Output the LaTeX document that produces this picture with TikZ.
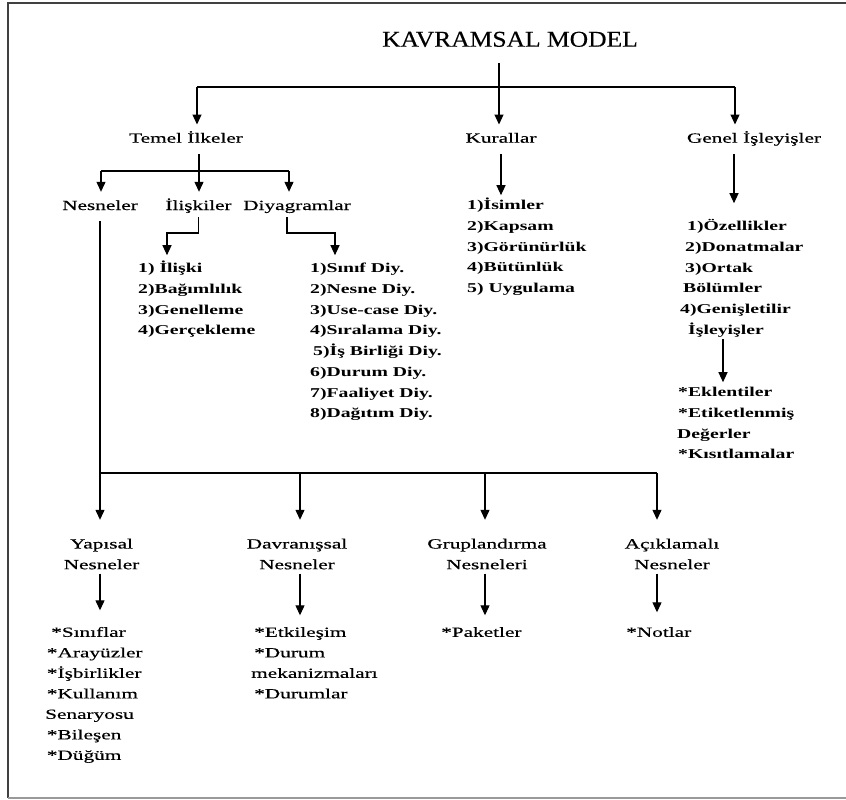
\documentclass[tikz,border=0pt]{standalone}
\usepackage{fontspec}
\setmainfont{Liberation Serif}
\newfontfamily\hdfont[FakeStretch=1.52,FakeBold=0.5]{Liberation Serif}
\newfontfamily\itfont[FakeStretch=1.52,FakeBold=0.3]{Liberation Serif}
\newfontfamily\lsfont[FakeStretch=1.46]{Liberation Serif}
\newfontfamily\ttlfont[FakeStretch=1.13,FakeBold=0.3]{Liberation Serif}
\usetikzlibrary{arrows.meta,calc}

\begin{document}
\begin{tikzpicture}[x=1pt,y=-1pt,
  ln/.style={line width=1.2pt},
  arr/.style={line width=1.2pt,-{Triangle[length=10pt,width=9pt]}},
  hd/.style={font=\hdfont\fontsize{14}{17}\selectfont,inner xsep=1pt,inner ysep=8pt,
             text height=10pt,text depth=3pt,anchor=base},
  hdb/.style={font=\hdfont\fontsize{14}{20.7}\selectfont,align=center,inner sep=0pt,anchor=north},
  lstb/.style={font=\lsfont\bfseries\fontsize{13.5}{20.7}\selectfont,align=left,inner sep=0pt,anchor=north west},
  lstr/.style={font=\itfont\fontsize{14}{20.5}\selectfont,align=left,inner sep=0pt,anchor=north west},
]
\useasboundingbox (0,0) rectangle (846,800);

% frame
\draw[line width=2pt,black!75] (846,3.5) -- (8,3.5) -- (8,798);
\draw[line width=1.5pt,black!40] (8,798) -- (846,798);

% title and first level
\node[font=\ttlfont\fontsize{22.6}{26}\selectfont,inner sep=0pt,anchor=base] (title) at (510,46.7) {KAVRAMSAL MODEL};
\node[hd] (temel) at (186,142.7) {Temel İlkeler};
\node[hd] (kur)   at (501,142.7) {Kurallar};
\node[hd] (genel) at (754,142.7) {Genel İşleyişler};

\coordinate (tstem) at (499,63);
\coordinate (tl) at (197,87);
\coordinate (tr) at (735,87);
\draw[ln] (tl) -- (tr);
\draw[arr] (tstem) -- (tstem |- kur.north);
\draw[arr] (tl) -- (tl |- temel.north);
\draw[arr] (tr) -- (tr |- genel.north);

% second level under Temel Ilkeler
\node[hd] (nes)  at (100,210)   {Nesneler};
\node[hd] (ilis) at (198.5,210) {İlişkiler};
\node[hd] (diya) at (297,210)   {Diyagramlar};

\coordinate (tm) at (199,171);
\coordinate (tn) at (101,171);
\coordinate (td) at (289,171);
\draw[ln] (tn) -- (td);
\draw[arr] (tm |- temel.south) -- (tm |- ilis.north);
\draw[arr] (tn) -- (tn |- nes.north);
\draw[arr] (td) -- (td |- diya.north);

% relation and diagram lists
\node[lstb] (ilislist) at (138,258.2) {\strut 1) İlişki\\\strut 2)Bağımlılık\\\strut 3)Genelleme\\\strut 4)Gerçekleme};
\node[lstb] (diyalist) at (310,258.2) {\strut 1)Sınıf Diy.\\\strut 2)Nesne Diy.\\\strut 3)Use-case Diy.\\\strut 4)Sıralama Diy.\\\strut\hspace*{3pt}5)İş Birliği Diy.\\\strut 6)Durum Diy.\\\strut 7)Faaliyet Diy.\\\strut 8)Dağıtım Diy.};

\coordinate (ie) at (167,233);
\coordinate (ds) at (287,0);
\coordinate (de) at (335,233);
\draw[arr,shorten >=3pt] ($(ilis.south)+(0,-4)$) |- (ie) -- (ie |- ilislist.north);
\draw[arr,shorten >=3pt] ($(ds |- diya.south)+(0,-4)$) |- (de) -- (de |- diyalist.north);

% rules list
\node[lstb] (kurlist) at (467,195.2) {\strut 1)İsimler\\\strut 2)Kapsam\\\strut 3)Görünürlük\\\strut 4)Bütünlük\\\strut 5) Uygulama};
\draw[arr] (kur.south) -- (kur.south |- kurlist.north);

% general mechanisms
\node[lstb] (genlist) at (680,216.2) {\strut\hspace*{7pt}1)Özellikler\\\strut\hspace*{5pt}2)Donatmalar\\\strut\hspace*{5pt}3)Ortak\\\strut\hspace*{3pt}Bölümler\\\strut 4)Genişletilir\\\strut\hspace*{8pt}İşleyişler};
\coordinate (gx) at (734,0);
\draw[arr,shorten >=13pt] (gx |- genel.south) -- (gx |- genlist.north);

\node[lstb] (eklist) at (677,382.2) {\strut\hspace*{1pt}*Eklentiler\\\strut\hspace*{1pt}*Etiketlenmiş\\\strut Değerler\\\strut\hspace*{1pt}*Kısıtlamalar};
\coordinate (ex) at (723,0);
\draw[arr,shorten <=-2pt] (ex |- genlist.south) -- (ex |- eklist.north);

% object kinds
\node[hdb] (yap)  at (101.5,533.8) {\strut Yapısal\\\strut Nesneler};
\node[hdb] (dav)  at (297,533.8)   {\strut Davranışsal\\\strut Nesneler};
\node[hdb] (grp)  at (487,533.8)   {\strut Gruplandırma\\\strut Nesneleri};
\node[hdb] (acik) at (672,533.8)   {\strut Açıklamalı\\\strut Nesneler};

\coordinate (b1) at (100,473);
\coordinate (b2) at (300,473);
\coordinate (b3) at (485,473);
\coordinate (b4) at (657,473);
\draw[ln] (b1) -- (b4);
\draw[arr,shorten >=14pt] (nes.south) -- (nes.south |- yap.north);
\draw[arr,shorten >=14pt] (b2) -- (b2 |- dav.north);
\draw[arr,shorten >=14pt] (b3) -- (b3 |- grp.north);
\draw[arr,shorten >=14pt] (b4) -- (b4 |- acik.north);

% members of each kind
\node[lstr] (yaplist) at (45,622.3) {\strut\hspace*{6pt}*Sınıflar\\\strut\hspace*{1.7pt}*Arayüzler\\\strut\hspace*{1.7pt}*İşbirlikler\\\strut\hspace*{1.7pt}*Kullanım\\\strut Senaryosu\\\strut\hspace*{1.7pt}*Bileşen\\\strut\hspace*{1.7pt}*Düğüm};
\node[lstr] (davlist) at (251,622.3) {\strut\hspace*{3pt}*Etkileşim\\\strut\hspace*{3pt}*Durum\\\strut mekanizmaları\\\strut\hspace*{3pt}*Durumlar};
\node[lstr] (paklist) at (441,622.3) {\strut *Paketler};
\node[lstr] (notlist) at (626,622.3) {\strut *Notlar};

\draw[arr,shorten >=12pt,shorten <=-2pt] (b1 |- yap.south) -- (b1 |- yaplist.north);
\draw[arr,shorten >=7pt,shorten <=-2pt] (b2 |- dav.south) -- (b2 |- davlist.north);
\draw[arr,shorten >=7pt,shorten <=-2pt] (b3 |- grp.south) -- (b3 |- paklist.north);
\draw[arr,shorten >=10pt,shorten <=-2pt] (b4 |- acik.south) -- (b4 |- notlist.north);
\end{tikzpicture}
\end{document}
